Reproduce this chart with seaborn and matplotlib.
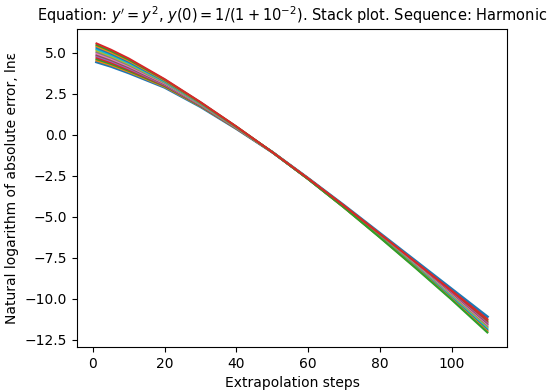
import matplotlib
matplotlib.use("Agg")
import matplotlib.pyplot as plt
import seaborn as sns

steps = [1, 5, 10, 20, 30, 40, 50, 60, 70, 80, 90, 100, 110]

# ln of absolute error, one list per stacked curve (bottom-to-top at step 1)
level_01 = [4.45, 4.18, 3.78, 2.90, 1.72, 0.38, -1.05, -2.65, -4.30, -6.00, -7.70, -9.40, -11.10]
level_02 = [4.54, 4.26, 3.85, 2.94, 1.75, 0.39, -1.05, -2.66, -4.33, -6.05, -7.79, -9.54, -11.30]
level_03 = [4.62, 4.33, 3.91, 2.98, 1.77, 0.40, -1.05, -2.66, -4.34, -6.07, -7.82, -9.58, -11.37]
level_04 = [4.71, 4.41, 3.98, 3.02, 1.80, 0.41, -1.05, -2.67, -4.35, -6.09, -7.85, -9.63, -11.44]
level_05 = [4.80, 4.50, 4.05, 3.06, 1.82, 0.42, -1.05, -2.67, -4.36, -6.11, -7.89, -9.68, -11.51]
level_06 = [4.88, 4.57, 4.12, 3.10, 1.84, 0.43, -1.05, -2.67, -4.37, -6.13, -7.92, -9.73, -11.58]
level_07 = [4.97, 4.65, 4.19, 3.14, 1.86, 0.44, -1.05, -2.68, -4.38, -6.15, -7.95, -9.77, -11.65]
level_08 = [5.06, 4.73, 4.26, 3.18, 1.88, 0.45, -1.05, -2.68, -4.39, -6.17, -7.98, -9.82, -11.72]
level_09 = [5.15, 4.81, 4.33, 3.22, 1.90, 0.46, -1.05, -2.68, -4.40, -6.18, -8.01, -9.86, -11.78]
level_10 = [5.23, 4.88, 4.39, 3.25, 1.92, 0.47, -1.05, -2.69, -4.41, -6.20, -8.04, -9.91, -11.85]
level_11 = [5.32, 4.96, 4.46, 3.29, 1.94, 0.48, -1.05, -2.69, -4.42, -6.22, -8.07, -9.96, -11.92]
level_12 = [5.41, 5.04, 4.53, 3.33, 1.96, 0.49, -1.05, -2.69, -4.43, -6.24, -8.10, -10.01, -11.99]
level_13 = [5.49, 5.12, 4.59, 3.37, 1.98, 0.50, -1.05, -2.70, -4.43, -6.26, -8.13, -10.05, -12.06]
level_14 = [5.58, 5.20, 4.66, 3.40, 2.00, 0.51, -1.05, -2.66, -4.32, -6.04, -7.77, -9.50, -11.25]

levels = [level_01, level_02, level_03, level_04, level_05, level_06, level_07,
          level_08, level_09, level_10, level_11, level_12, level_13, level_14]

colors = sns.color_palette("tab10")

fig, ax = plt.subplots(figsize=(5.48, 3.92), dpi=100)
fig.subplots_adjust(left=0.1405, right=0.925, top=0.926, bottom=0.115)

for i, vals in enumerate(levels):
    sns.lineplot(x=steps, y=vals, ax=ax, color=colors[i % 10],
                 linewidth=2.0 if i == 0 else 1.5)

ax.set_title(r"Equation: $y^{\prime} = y^2$, $y(0) = 1/(1 + 10^{-2})$. Stack plot. Sequence: Harmonic",
             fontsize=10.5)
ax.set_xlabel("Extrapolation steps")
ax.set_ylabel("Natural logarithm of absolute error, lnε")

fig.savefig("out.png", dpi=100)
